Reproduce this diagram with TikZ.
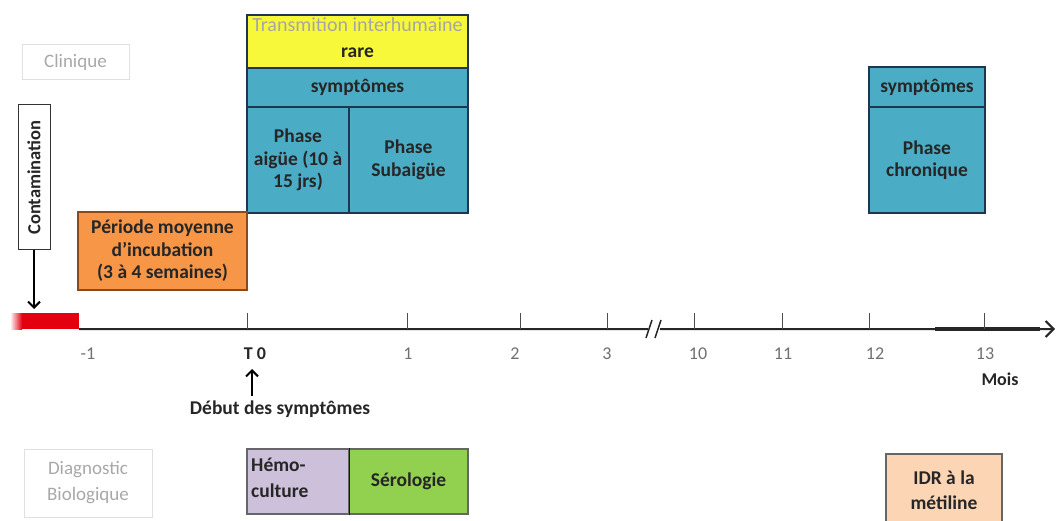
\documentclass[tikz,border=0pt]{standalone}
\usepackage{fontspec}
\setmainfont{Carlito}
\usetikzlibrary{arrows.meta}
\definecolor{tealbox}{HTML}{4BACC6}
\definecolor{navyline}{HTML}{1F3550}
\definecolor{yelbox}{HTML}{F8F83A}
\definecolor{orgbox}{HTML}{F79646}
\definecolor{orgline}{HTML}{8A4A1A}
\definecolor{redbar}{HTML}{E3000F}
\definecolor{purbox}{HTML}{CCC0DA}
\definecolor{grnbox}{HTML}{92D050}
\definecolor{pchbox}{HTML}{FCD5B5}
\definecolor{lgray}{HTML}{A8A8A8}
\definecolor{tgray}{HTML}{707070}
\newcommand\mysize{\fontsize{19.5}{22.5}\selectfont}
\newcommand\mysmall{\fontsize{18}{21}\selectfont}
\tikzset{
  blk/.style={draw=navyline, line width=1.3pt, inner sep=0pt, align=center,
    font=\mysize\bfseries, text=black!85},
  lab/.style={draw=black!12, line width=1pt, inner sep=0pt, align=center,
    font=\fontsize{19}{24}\selectfont, text=lgray},
  tick/.style={draw=black!70, line width=0.9pt},
  ticklab/.style={font=\mysmall, text=tgray, anchor=base},
  axisline/.style={draw=black!85, line width=2pt},
  arr/.style={draw=black, line width=2pt, -{Straight Barb[length=6pt,width=12pt,line width=2pt]}},
}
\begin{document}
\begin{tikzpicture}[x=1pt,y=-1pt]
\useasboundingbox (0,0) rectangle (1057,521);

% Clinique label
\node[lab, minimum width=107pt, minimum height=35pt] (clin) at (75.5,62.5) {Clinique};

% Top block
\node[blk, fill=yelbox, minimum width=221pt, minimum height=53pt] (yel) at (357.5,41.5) {};
\node[font=\fontsize{20}{24}\selectfont, text=black!35, inner sep=0pt] (trans) at (357.5,25) {Transmition interhumaine};
\node[font=\mysize\bfseries, text=black!85, inner sep=0pt] (rare) at (357.5,53) {rare};
\node[blk, fill=tealbox, minimum width=221pt, minimum height=39pt] (symp) at (357.5,87.5) {symptômes};
\node[blk, fill=tealbox, minimum width=102pt, minimum height=106pt] (aig) at (298,160) {Phase\\aigüe (10 à\\15 jrs)};
\node[blk, fill=tealbox, minimum width=119pt, minimum height=106pt] (sub) at (408.5,160) {Phase\\Subaigüe};

% Chronic block
\node[blk, fill=tealbox, minimum width=116pt, minimum height=40pt] (symp2) at (927,87) {symptômes};
\node[blk, fill=tealbox, minimum width=116pt, minimum height=106pt] (chro) at (927,160) {Phase\\chronique};

% Incubation
\node[blk, draw=orgline, fill=orgbox, minimum width=169pt, minimum height=78pt] (incub) at (162.5,251) {Période moyenne\\d'incubation\\(3 à 4 semaines)};

% Contamination
\node[draw=black!80, line width=1pt, fill=white, rotate=90, minimum width=145pt, minimum height=32pt,
  inner sep=0pt, font=\fontsize{18.5}{20}\selectfont\bfseries, text=black!85] (cont) at (34,177.5) {Contamination};
\coordinate (conttip) at (34,309);
\draw[arr] (cont.west) -- (conttip);

% Red bar
\node[fill=redbar, minimum width=69pt, minimum height=16pt, inner sep=0pt] (red) at (44.5,321) {};
\shade[left color=white, right color=redbar] (10,313) rectangle (22,329);

% Axis
\coordinate (ax1) at (1055,329);
\draw[axisline, -{Straight Barb[length=8pt,width=16pt,line width=2pt]}] (red.south east) -- (ax1);
\draw[draw=black!85, line width=3.2pt] (935,329) -- (1040,329);

% ticks
\foreach \xx in {247, 407, 520, 607, 694, 782, 869, 984}{
  \draw[tick] (\xx,313) -- (\xx,329);
}
\node[ticklab] (lm1) at (88,359) {-1};
\node[ticklab, font=\mysmall\bfseries, text=black!85] (lt0) at (255,359) {T 0};
\node[ticklab] (l1) at (408,359) {1};
\node[ticklab] (l2) at (515,359) {2};
\node[ticklab] (l3) at (607,359) {3};
\node[ticklab] (l10) at (698,359) {10};
\node[ticklab] (l11) at (783,359) {11};
\node[ticklab] (l12) at (875,359) {12};
\node[ticklab] (l13) at (985,359) {13};
\node[ticklab, font=\mysmall\bfseries, text=black!85] (mois) at (1000,385) {Mois};

% break mark
\fill[white] (648,322) rectangle (660,336);
\draw[draw=black!85, line width=1.5pt] (646,338) -- (652,320);
\draw[draw=black!85, line width=1.5pt] (655,338) -- (661,320);

% Debut des symptomes
\node[font=\mysize\bfseries, text=black!85, inner sep=0pt] (debut) at (280,409) {Début des symptômes};
\coordinate (t0tip) at (252,369);
\draw[arr, line width=2pt] (252,396) -- (t0tip);

% Diagnostic
\node[lab, minimum width=128pt, minimum height=68pt, font=\fontsize{19}{26}\selectfont] (diag) at (88,483) {Diagnostic\\Biologique};
\node[blk, draw=black!60, fill=purbox, minimum width=102pt, minimum height=65pt] (hemo) at (298,481.5) {};
\node[font=\mysize\bfseries, text=black!85, align=left, anchor=west, inner sep=0pt] (hemot) at (251,478) {Hémo-\\[4pt]culture};
\node[blk, draw=black!60, fill=grnbox, minimum width=119pt, minimum height=65pt] (sero) at (408.5,481.5) {Sérologie};
\draw[draw=black!90, line width=1.5pt] (hemo.north east) -- (hemo.south east);

% IDR
\node[blk, draw=black!60, fill=pchbox, minimum width=116pt, minimum height=72pt] (idr) at (944,490) {IDR à la\\[2pt]métiline};
\end{tikzpicture}
\end{document}
